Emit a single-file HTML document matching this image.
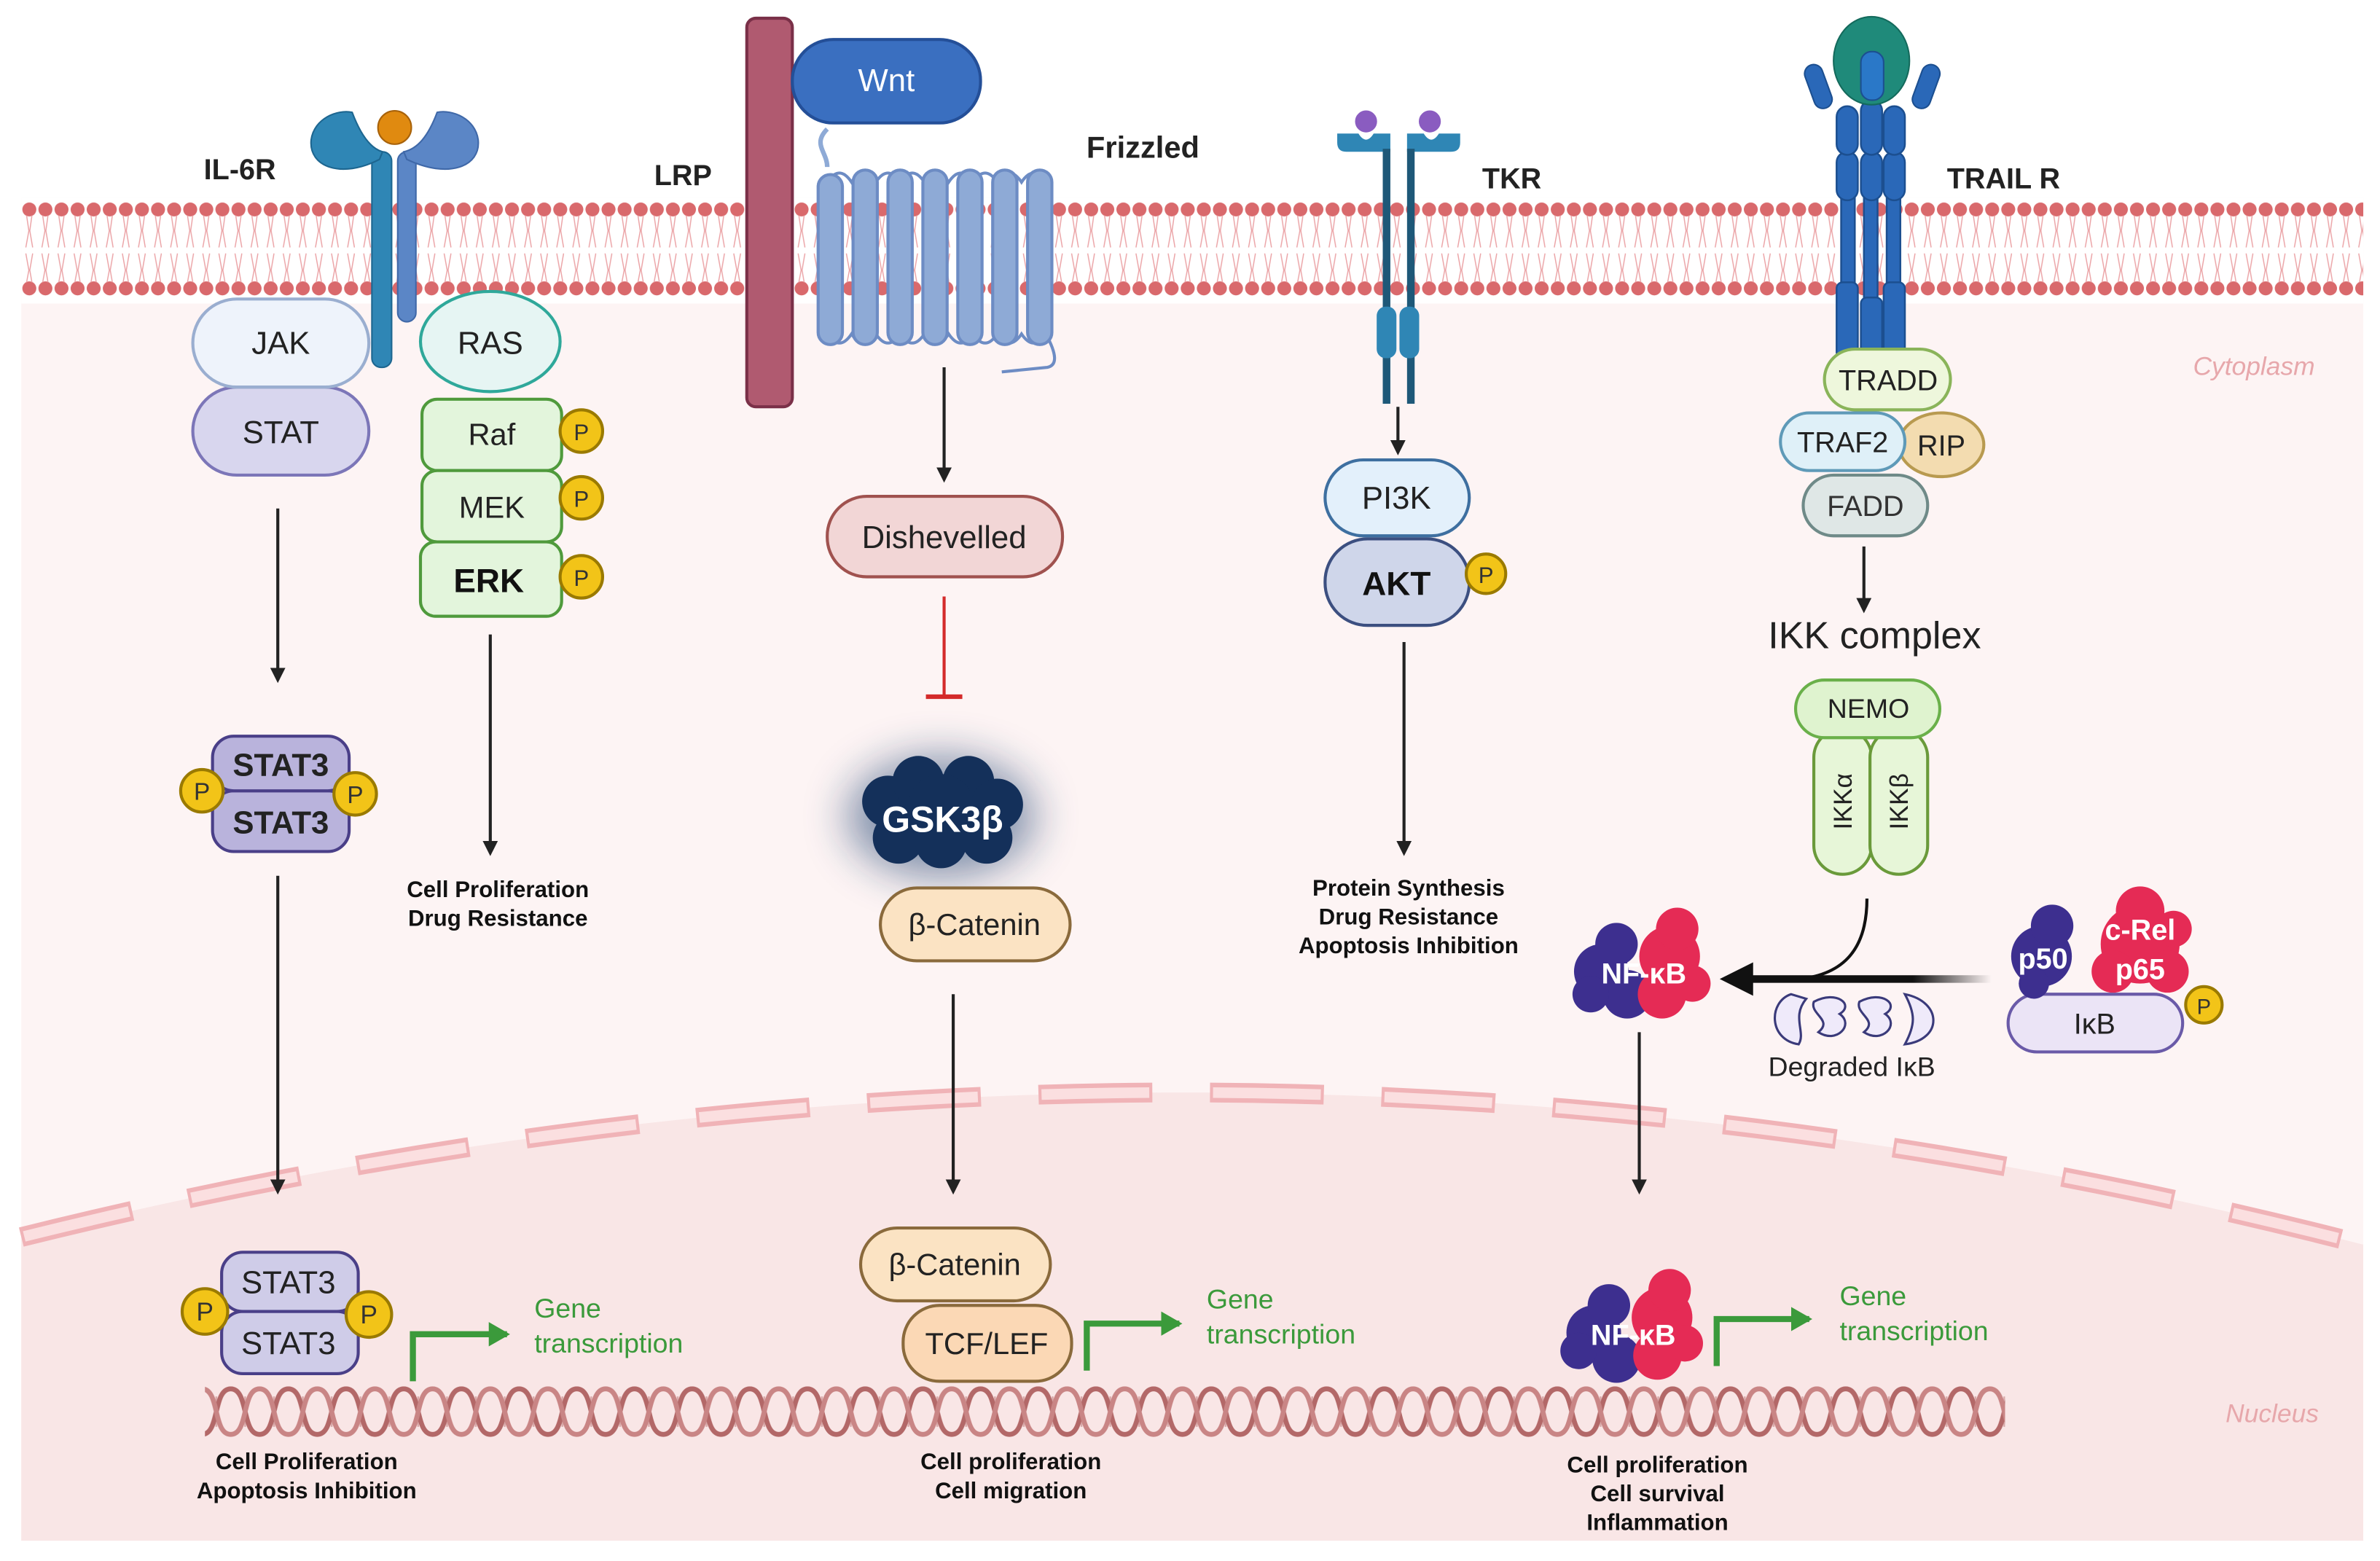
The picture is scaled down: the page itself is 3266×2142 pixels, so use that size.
<!DOCTYPE html>
<html><head><meta charset="utf-8"><style>
html,body{margin:0;padding:0;background:#fff}
svg{display:block}
text{font-family:"Liberation Sans",sans-serif}
</style></head><body>
<svg width="3266" height="2142" viewBox="0 0 1568 1028.4" xmlns="http://www.w3.org/2000/svg">
<defs>
<pattern id="mem" x="14" y="130" width="10.6" height="70" patternUnits="userSpaceOnUse">
<circle cx="5.3" cy="8" r="4.6" fill="#d9696c"/>
<circle cx="5.3" cy="60" r="4.6" fill="#d9696c"/>
<path d="M3.5 12 L5 22 L3 33 M7 12 L5.6 22 L7.5 33 M3 37 L5 48 L3.5 56 M7.5 37 L5.6 48 L7 56" stroke="#eba3a6" stroke-width="0.7" fill="none"/>
</pattern>
<pattern id="dna" x="0" y="912" width="38" height="36" patternUnits="userSpaceOnUse">
<path d="M9.5 8 V28 M28.5 8 V28" stroke="#d8a8a8" stroke-width="1.2"/>
<path d="M0 3 C12 3 7 33 19 33 C31 33 26 3 38 3" stroke="#b36868" stroke-width="3.2" fill="none"/>
<path d="M0 33 C12 33 7 3 19 3 C31 3 26 33 38 33" stroke="#c98585" stroke-width="3.2" fill="none"/>
</pattern>
<marker id="ah" markerWidth="10" markerHeight="10" refX="8" refY="5" orient="auto" markerUnits="userSpaceOnUse"><path d="M0 0 L10 5 L0 10 Z" fill="#222"/></marker>
<marker id="ag" markerWidth="14" markerHeight="16" refX="12" refY="8" orient="auto" markerUnits="userSpaceOnUse"><path d="M0 0 L14 8 L0 16 Z" fill="#3b9a3b"/></marker>
<filter id="glow" x="-50%" y="-50%" width="200%" height="200%"><feGaussianBlur stdDeviation="14"/></filter>
<linearGradient id="fade" gradientUnits="userSpaceOnUse" x1="1140" y1="0" x2="1312" y2="0"><stop offset="0" stop-color="#111"/><stop offset="0.7" stop-color="#111"/><stop offset="1" stop-color="#111" stop-opacity="0"/></linearGradient>
</defs>

<rect x="14" y="130" width="1543" height="885" fill="#fdf4f4"/>
<path d="M14 815 Q790 622 1557 820 L1557 1015 L14 1015 Z" fill="#f9e6e6"/>
<path d="M14 815 Q790 622 1557 820" stroke="#f0b3b7" stroke-width="13" fill="none" stroke-dasharray="75 38"/>
<path d="M14 815 Q790 622 1557 820" stroke="#fbdfe0" stroke-width="7" fill="none" stroke-dasharray="71 42" stroke-dashoffset="-2"/>
<rect x="14" y="130" width="1543" height="70" fill="#fff"/>
<rect x="14" y="130" width="1543" height="70" fill="url(#mem)"/>
<rect x="135" y="912" width="1186" height="36" fill="url(#dna)"/>

<text x="1485" y="247" font-size="17" font-style="italic" fill="#e7a7ab" text-anchor="middle">Cytoplasm</text>
<text x="1497" y="937" font-size="17" font-style="italic" fill="#e7a7ab" text-anchor="middle">Nucleus</text>

<text x="158" y="118" font-size="19" font-weight="bold" text-anchor="middle" fill="#222">IL-6R</text>
<rect x="245" y="100" width="13" height="142" rx="6" fill="#2f86b5" stroke="#1d6690"/>
<rect x="262" y="100" width="12" height="112" rx="6" fill="#5b86c6" stroke="#3f68a8"/>
<path d="M250 105 C225 118 203 110 205 92 C207 78 222 72 232 74 C238 90 245 98 252 100 Z" fill="#2f86b5" stroke="#1d6690"/>
<path d="M268 105 C295 118 317 110 315 92 C313 78 298 72 288 74 C282 90 275 98 266 100 Z" fill="#5b86c6" stroke="#3f68a8"/>
<circle cx="260" cy="84" r="14" fill="#fff"/>
<circle cx="260" cy="84" r="11" fill="#e08a10" stroke="#a8620a"/>

<rect x="127" y="255" width="116" height="58" rx="29" fill="#d8d6ee" stroke="#7c76b8" stroke-width="2"/>
<text x="185" y="292" font-size="21" text-anchor="middle" fill="#222">STAT</text>
<rect x="127" y="197" width="116" height="58" rx="29" fill="#eef3fb" stroke="#9aaed0" stroke-width="2"/>
<text x="185" y="233" font-size="21" text-anchor="middle" fill="#222">JAK</text>

<ellipse cx="323" cy="225" rx="46" ry="33" fill="#e6f5f3" stroke="#2fa89a" stroke-width="2"/>
<text x="323" y="233" font-size="21" text-anchor="middle" fill="#222">RAS</text>
<rect x="278" y="263" width="92" height="47" rx="10" fill="#e3f5dc" stroke="#4f9a3c" stroke-width="2"/>
<rect x="278" y="310" width="92" height="47" rx="10" fill="#e3f5dc" stroke="#4f9a3c" stroke-width="2"/>
<rect x="277" y="357" width="93" height="49" rx="10" fill="#e3f5dc" stroke="#4f9a3c" stroke-width="2"/>
<text x="324" y="293" font-size="20" text-anchor="middle" fill="#222">Raf</text>
<text x="324" y="341" font-size="20" text-anchor="middle" fill="#222">MEK</text>
<text x="322" y="390" font-size="22" font-weight="bold" text-anchor="middle" fill="#111">ERK</text>
<g font-size="15" text-anchor="middle" fill="#333">
<circle cx="383" cy="284" r="14" fill="#f2c418" stroke="#9a7a00" stroke-width="2"/><text x="383" y="290">P</text>
<circle cx="383" cy="328" r="14" fill="#f2c418" stroke="#9a7a00" stroke-width="2"/><text x="383" y="334">P</text>
<circle cx="383" cy="380" r="14" fill="#f2c418" stroke="#9a7a00" stroke-width="2"/><text x="383" y="386">P</text>
</g>
<line x1="183" y1="335" x2="183" y2="448" stroke="#222" stroke-width="2" marker-end="url(#ah)"/>
<line x1="323" y1="418" x2="323" y2="562" stroke="#222" stroke-width="2" marker-end="url(#ah)"/>
<g font-size="15" font-weight="bold" text-anchor="middle" fill="#111">
<text x="328" y="591">Cell Proliferation</text><text x="328" y="610">Drug Resistance</text>
</g>

<rect x="140" y="521" width="90" height="40" rx="14" fill="#b9b3dc" stroke="#4a3f88" stroke-width="2"/>
<rect x="140" y="485" width="90" height="36" rx="14" fill="#b9b3dc" stroke="#4a3f88" stroke-width="2"/>
<text x="185" y="511" font-size="21" font-weight="bold" text-anchor="middle" fill="#222">STAT3</text>
<text x="185" y="549" font-size="21" font-weight="bold" text-anchor="middle" fill="#222">STAT3</text>
<g font-size="16" text-anchor="middle" fill="#333">
<circle cx="133" cy="521" r="14" fill="#f2c418" stroke="#9a7a00" stroke-width="2"/><text x="133" y="527">P</text>
<circle cx="234" cy="523" r="14" fill="#f2c418" stroke="#9a7a00" stroke-width="2"/><text x="234" y="529">P</text>
</g>
<line x1="183" y1="577" x2="183" y2="785" stroke="#222" stroke-width="2" marker-end="url(#ah)"/>

<rect x="146" y="864" width="90" height="41" rx="14" fill="#cfcce8" stroke="#4a3f88" stroke-width="2"/>
<rect x="146" y="825" width="90" height="39" rx="14" fill="#cfcce8" stroke="#4a3f88" stroke-width="2"/>
<text x="190" y="852" font-size="21" text-anchor="middle" fill="#222">STAT3</text>
<text x="190" y="892" font-size="21" text-anchor="middle" fill="#222">STAT3</text>
<g font-size="17" text-anchor="middle" fill="#333">
<circle cx="135" cy="864" r="15" fill="#f2c418" stroke="#9a7a00" stroke-width="2"/><text x="135" y="870">P</text>
<circle cx="243" cy="866" r="15" fill="#f2c418" stroke="#9a7a00" stroke-width="2"/><text x="243" y="872">P</text>
</g>
<path d="M272 910 V879 H334" stroke="#3b9a3b" stroke-width="4" fill="none" marker-end="url(#ag)"/>
<g font-size="18" fill="#3b9a3b"><text x="352" y="868">Gene</text><text x="352" y="891">transcription</text></g>
<g font-size="15" font-weight="bold" text-anchor="middle" fill="#111">
<text x="202" y="968">Cell Proliferation</text><text x="202" y="987">Apoptosis Inhibition</text>
</g>

<text x="450" y="122" font-size="19" font-weight="bold" text-anchor="middle" fill="#222">LRP</text>
<rect x="492" y="12" width="30" height="256" rx="6" fill="#b05a70" stroke="#7a3048" stroke-width="2"/>
<path d="M545 85 C535 95 545 100 545 110" stroke="#8eaad6" stroke-width="3" fill="none"/>
<rect x="522" y="26" width="124" height="55" rx="27" fill="#3a6fc0" stroke="#244f98" stroke-width="2"/>
<text x="584" y="60" font-size="21" text-anchor="middle" fill="#fff">Wnt</text>
<text x="753" y="104" font-size="20" font-weight="bold" text-anchor="middle" fill="#222">Frizzled</text>
<g fill="#8eaad6" stroke="#6d8cc4" stroke-width="2">
<path d="M545 120 Q553 108 561 120 Q569 108 577 120 Q585 108 593 120 Q601 108 609 120 Q617 108 625 120 Q633 108 641 120 Q649 108 657 120 Q665 108 673 120 Q681 108 689 120" fill="none"/>
<path d="M545 220 Q553 232 561 220 Q569 232 577 220 Q585 232 593 220 Q601 232 609 220 Q617 232 625 220 Q633 232 641 220 Q649 232 657 220 Q665 232 673 220 Q681 232 689 220 Q700 240 690 242 L660 245" fill="none"/>
<rect x="539" y="115" width="16" height="112" rx="8"/><rect x="562" y="112" width="16" height="115" rx="8"/>
<rect x="585" y="112" width="16" height="115" rx="8"/><rect x="608" y="112" width="16" height="115" rx="8"/>
<rect x="631" y="112" width="16" height="115" rx="8"/><rect x="654" y="112" width="16" height="115" rx="8"/>
<rect x="677" y="112" width="16" height="115" rx="8"/>
</g>
<line x1="622" y1="242" x2="622" y2="316" stroke="#222" stroke-width="2" marker-end="url(#ah)"/>
<rect x="545" y="327" width="155" height="53" rx="26" fill="#f2d6d6" stroke="#a0524f" stroke-width="2"/>
<text x="622" y="361" font-size="21" text-anchor="middle" fill="#222">Dishevelled</text>
<line x1="622" y1="393" x2="622" y2="459" stroke="#d42a2a" stroke-width="2"/>
<line x1="610" y1="459" x2="634" y2="459" stroke="#d42a2a" stroke-width="3"/>
<ellipse cx="620" cy="538" rx="62" ry="40" fill="#1c3f70" opacity="0.55" filter="url(#glow)"/>
<g fill="#14305a">
<circle cx="585" cy="528" r="17"/><circle cx="605" cy="515" r="17"/><circle cx="638" cy="515" r="17"/><circle cx="657" cy="530" r="17"/>
<circle cx="592" cy="552" r="17"/><circle cx="620" cy="555" r="17"/><circle cx="650" cy="552" r="17"/><circle cx="620" cy="532" r="22"/>
</g>
<text x="621" y="548" font-size="24" font-weight="bold" text-anchor="middle" fill="#fff">GSK3β</text>
<rect x="580" y="585" width="125" height="48" rx="24" fill="#fbe3c3" stroke="#8a6a3c" stroke-width="2"/>
<text x="642" y="616" font-size="20" text-anchor="middle" fill="#222">β-Catenin</text>
<line x1="628" y1="655" x2="628" y2="785" stroke="#222" stroke-width="2" marker-end="url(#ah)"/>
<rect x="595" y="860" width="111" height="50" rx="24" fill="#fbd8b5" stroke="#8a6a3c" stroke-width="2"/>
<text x="650" y="892" font-size="20" text-anchor="middle" fill="#222">TCF/LEF</text>
<rect x="567" y="809" width="125" height="48" rx="24" fill="#fbe3c3" stroke="#8a6a3c" stroke-width="2"/>
<text x="629" y="840" font-size="20" text-anchor="middle" fill="#222">β-Catenin</text>
<path d="M716 903 V872 H777" stroke="#3b9a3b" stroke-width="4" fill="none" marker-end="url(#ag)"/>
<g font-size="18" fill="#3b9a3b"><text x="795" y="862">Gene</text><text x="795" y="885">transcription</text></g>
<g font-size="15" font-weight="bold" text-anchor="middle" fill="#111">
<text x="666" y="968">Cell proliferation</text><text x="666" y="987">Cell migration</text>
</g>

<path d="M881 88 H895 Q900 96 905 88 H916 V100 H887 Q881 100 881 94 Z" fill="#2f86b5"/>
<path d="M962 88 H948 Q943 96 938 88 H927 V100 H956 Q962 100 962 94 Z" fill="#2f86b5"/>
<circle cx="900" cy="80" r="8" fill="#8a5cc0" stroke="#fff" stroke-width="1.5"/>
<circle cx="942" cy="80" r="8" fill="#8a5cc0" stroke="#fff" stroke-width="1.5"/>
<rect x="911" y="98" width="5" height="168" fill="#1e5878"/><rect x="927" y="98" width="5" height="168" fill="#1e5878"/>
<rect x="907" y="202" width="13" height="34" rx="6" fill="#2f86b5"/><rect x="922" y="202" width="13" height="34" rx="6" fill="#2f86b5"/>
<text x="996" y="124" font-size="19" font-weight="bold" text-anchor="middle" fill="#222">TKR</text>
<line x1="921" y1="268" x2="921" y2="298" stroke="#222" stroke-width="2" marker-end="url(#ah)"/>
<rect x="873" y="355" width="95" height="57" rx="28" fill="#cfd6ea" stroke="#3c4f80" stroke-width="2"/>
<text x="920" y="392" font-size="22" font-weight="bold" text-anchor="middle" fill="#111">AKT</text>
<rect x="873" y="303" width="95" height="50" rx="25" fill="#e3f0fb" stroke="#3e6fa0" stroke-width="2"/>
<text x="920" y="335" font-size="21" text-anchor="middle" fill="#222">PI3K</text>
<circle cx="979" cy="378" r="13" fill="#f2c418" stroke="#9a7a00" stroke-width="2"/><text x="979" y="384" font-size="15" text-anchor="middle" fill="#333">P</text>
<line x1="925" y1="423" x2="925" y2="562" stroke="#222" stroke-width="2" marker-end="url(#ah)"/>
<g font-size="15" font-weight="bold" text-anchor="middle" fill="#111">
<text x="928" y="590">Protein Synthesis</text><text x="928" y="609">Drug Resistance</text><text x="928" y="628">Apoptosis Inhibition</text>
</g>

<g fill="#2a68b8" stroke="#1c4f90" stroke-width="1.2">
<rect x="1213" y="130" width="9" height="105" /><rect x="1228" y="130" width="9" height="105"/><rect x="1243" y="130" width="9" height="105"/>
<rect x="1210" y="186" width="14" height="50" rx="4"/><rect x="1226" y="196" width="14" height="40" rx="4"/><rect x="1241" y="186" width="14" height="50" rx="4"/>
<rect x="1210" y="100" width="14" height="32" rx="7"/><rect x="1226" y="100" width="14" height="32" rx="7"/><rect x="1241" y="100" width="14" height="32" rx="7"/>
<rect x="1210" y="70" width="14" height="32" rx="7"/><rect x="1226" y="66" width="14" height="36" rx="7"/><rect x="1241" y="70" width="14" height="32" rx="7"/>
</g>
<ellipse cx="1233" cy="40" rx="25" ry="29" fill="#1f8a7a" stroke="#146a5c"/>
<rect x="1226" y="34" width="15" height="32" rx="7" fill="#2a78c8" stroke="#1c4f90"/>
<rect x="1192" y="42" width="12" height="30" rx="6" transform="rotate(-20 1198 57)" fill="#2a68b8" stroke="#1c4f90"/>
<rect x="1263" y="42" width="12" height="30" rx="6" transform="rotate(20 1269 57)" fill="#2a68b8" stroke="#1c4f90"/>
<text x="1320" y="124" font-size="19" font-weight="bold" text-anchor="middle" fill="#222">TRAIL R</text>
<rect x="1202" y="230" width="83" height="40" rx="20" fill="#eef7dc" stroke="#8ab45a" stroke-width="2"/>
<text x="1244" y="257" font-size="19" text-anchor="middle" fill="#222">TRADD</text>
<rect x="1188" y="313" width="82" height="40" rx="20" fill="#dfe7e6" stroke="#6f8a88" stroke-width="2"/>
<text x="1229" y="340" font-size="19" text-anchor="middle" fill="#333">FADD</text>
<ellipse cx="1279" cy="293" rx="28" ry="21" fill="#f3dcb0" stroke="#b89a50" stroke-width="2"/>
<text x="1279" y="300" font-size="19" text-anchor="middle" fill="#222">RIP</text>
<rect x="1173" y="272" width="82" height="38" rx="19" fill="#dff0f8" stroke="#5f9ab8" stroke-width="2"/>
<text x="1214" y="298" font-size="19" text-anchor="middle" fill="#222">TRAF2</text>
<line x1="1228" y1="360" x2="1228" y2="402" stroke="#222" stroke-width="2" marker-end="url(#ah)"/>
<text x="1235" y="427" font-size="25" text-anchor="middle" fill="#222">IKK complex</text>
<rect x="1195" y="480" width="38" height="96" rx="19" fill="#e7f6d8" stroke="#6a9a3a" stroke-width="2"/>
<rect x="1232" y="480" width="38" height="96" rx="19" fill="#e7f6d8" stroke="#6a9a3a" stroke-width="2"/>
<text transform="translate(1220 528) rotate(-90)" font-size="17" text-anchor="middle" fill="#222">IKKα</text>
<text transform="translate(1257 528) rotate(-90)" font-size="17" text-anchor="middle" fill="#222">IKKβ</text>
<rect x="1183" y="448" width="95" height="38" rx="19" fill="#dff3cf" stroke="#6ab04a" stroke-width="2"/>
<text x="1231" y="473" font-size="18" text-anchor="middle" fill="#222">NEMO</text>

<path d="M1230 592 C1230 625 1215 642 1185 645" stroke="#111" stroke-width="2" fill="none"/>
<rect x="1150" y="642.5" width="162" height="5" fill="url(#fade)"/>
<path d="M1133 645 L1155 634 L1155 656 Z" fill="#111"/>
<g fill="#3d2f8f"><circle cx="1055" cy="640" r="18"/><circle cx="1065" cy="622" r="14"/><circle cx="1072" cy="655" r="16"/><circle cx="1048" cy="655" r="12"/></g>
<g fill="#e52b55"><circle cx="1100" cy="630" r="20"/><circle cx="1105" cy="612" r="14"/><circle cx="1095" cy="655" r="16"/><circle cx="1115" cy="648" r="12"/></g>
<text x="1083" y="648" font-size="19" font-weight="bold" text-anchor="middle" fill="#fff">NF-κB</text>

<g fill="#efeafa" stroke="#3a3a7a" stroke-width="1.5">
<path d="M1180 655 C1165 660 1165 685 1185 688 C1190 680 1180 670 1190 658 Z"/>
<path d="M1195 660 C1210 652 1222 662 1212 668 C1222 675 1210 688 1198 680 C1208 672 1192 668 1195 660 Z"/>
<path d="M1225 660 C1240 652 1252 662 1242 668 C1252 675 1240 688 1228 680 C1238 672 1222 668 1225 660 Z"/>
<path d="M1255 655 C1280 660 1280 685 1255 688 C1262 675 1262 668 1255 655 Z"/>
</g>
<text x="1220" y="709" font-size="18" text-anchor="middle" fill="#222">Degraded IκB</text>

<rect x="1323" y="655" width="115" height="38" rx="19" fill="#ebe4f6" stroke="#6a5aa8" stroke-width="2"/>
<text x="1380" y="681" font-size="19" text-anchor="middle" fill="#222">IκB</text>
<circle cx="1452" cy="662" r="12" fill="#f2c418" stroke="#9a7a00" stroke-width="2"/><text x="1452" y="668" font-size="14" text-anchor="middle" fill="#333">P</text>
<g fill="#3d2f8f"><circle cx="1345" cy="630" r="20"/><circle cx="1352" cy="610" r="14"/><circle cx="1340" cy="648" r="10"/></g>
<g fill="#e52b55"><circle cx="1410" cy="622" r="26"/><circle cx="1410" cy="600" r="16"/><circle cx="1392" cy="640" r="14"/><circle cx="1428" cy="640" r="14"/><circle cx="1432" cy="612" r="12"/></g>
<text x="1346" y="638" font-size="19" font-weight="bold" text-anchor="middle" fill="#fff">p50</text>
<text x="1410" y="619" font-size="19" font-weight="bold" text-anchor="middle" fill="#fff">c-Rel</text>
<text x="1410" y="645" font-size="19" font-weight="bold" text-anchor="middle" fill="#fff">p65</text>

<line x1="1080" y1="680" x2="1080" y2="785" stroke="#222" stroke-width="2" marker-end="url(#ah)"/>
<g fill="#3d2f8f"><circle cx="1050" cy="878" r="18"/><circle cx="1060" cy="860" r="14"/><circle cx="1065" cy="895" r="16"/><circle cx="1040" cy="890" r="12"/></g>
<g fill="#e52b55"><circle cx="1095" cy="868" r="20"/><circle cx="1100" cy="850" r="14"/><circle cx="1092" cy="893" r="16"/><circle cx="1110" cy="885" r="12"/></g>
<text x="1076" y="886" font-size="19" font-weight="bold" text-anchor="middle" fill="#fff">NF-κB</text>
<path d="M1131 900 V869 H1192" stroke="#3b9a3b" stroke-width="4" fill="none" marker-end="url(#ag)"/>
<g font-size="18" fill="#3b9a3b"><text x="1212" y="860">Gene</text><text x="1212" y="883">transcription</text></g>
<g font-size="15" font-weight="bold" text-anchor="middle" fill="#111">
<text x="1092" y="970">Cell proliferation</text><text x="1092" y="989">Cell survival</text><text x="1092" y="1008">Inflammation</text>
</g>
</svg>
</body></html>
